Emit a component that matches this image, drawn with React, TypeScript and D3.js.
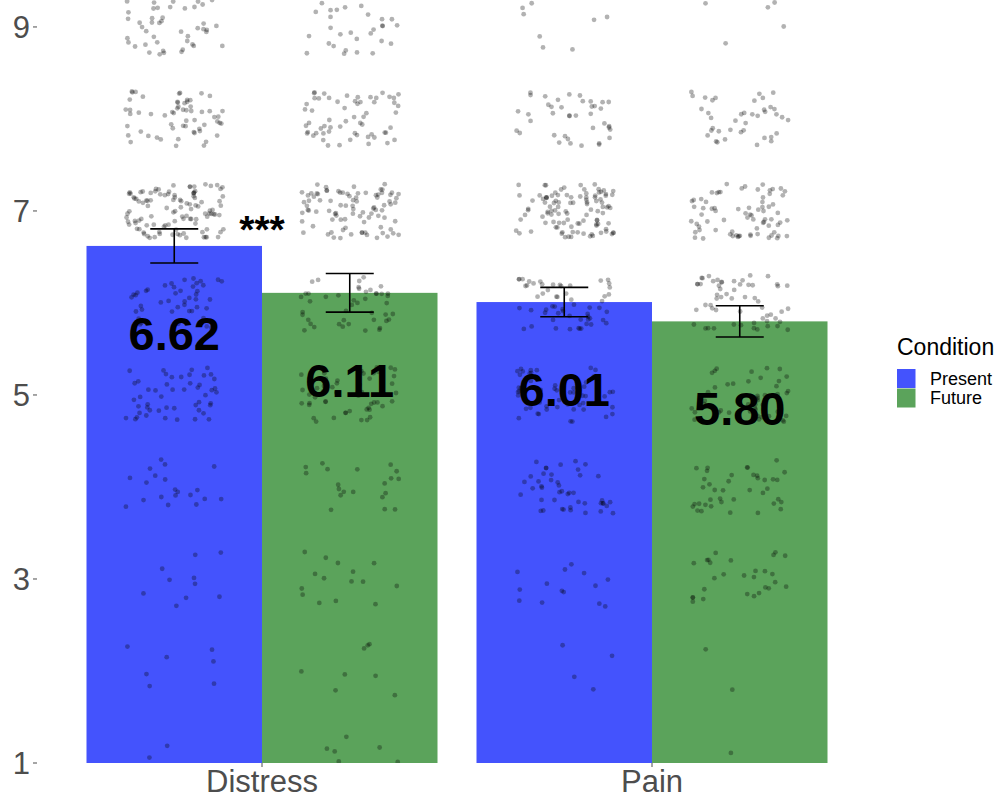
import React from "react";
import * as d3 from "d3";

// Groups and conditions
const groups = ["Distress", "Pain"];
const conditions = ["Present", "Future"];
const conditionColors = ["#4453fd", "#5ba35b"];

// Mean ratings and standard errors, [Present, Future] per group
const distressMeans = [6.62, 6.11];
const painMeans = [6.01, 5.8];
const distressErrors = [0.185, 0.21];
const painErrors = [0.16, 0.17];

// Number of responses at each rating level 1..9
const ratingLevels = [1, 2, 3, 4, 5, 6, 7, 8, 9];
const distressPresentCounts = [2, 7, 10, 20, 50, 45, 110, 60, 45];
const distressFutureCounts = [14, 8, 15, 20, 50, 45, 90, 60, 30];
const painPresentCounts = [2, 4, 14, 45, 55, 58, 105, 40, 8];
const painFutureCounts = [2, 2, 28, 40, 50, 58, 75, 40, 5];

const yTicks = [1, 3, 5, 7, 9];
const significance = ["***", ""];

const W = 1003;
const H = 799;
const panel = { left: 28, right: 886, top: 0, bottom: 763 };

export default function App() {
  const x = d3
    .scaleBand()
    .domain(groups)
    .range([panel.left, panel.right])
    .paddingInner(0.1)
    .paddingOuter(0.15);
  const xInner = d3.scaleBand().domain(conditions).range([0, x.bandwidth()]);
  const y = d3.scaleLinear().domain([1, 9.293]).range([panel.bottom, panel.top]);

  const means = [distressMeans, painMeans];
  const errors = [distressErrors, painErrors];
  const counts = [
    [distressPresentCounts, distressFutureCounts],
    [painPresentCounts, painFutureCounts],
  ];

  const bars = [];
  groups.forEach((g, gi) => {
    conditions.forEach((c, ci) => {
      bars.push({ g, gi, c, ci, mean: means[gi][ci], se: errors[gi][ci] });
    });
  });

  // jittered points (like geom_jitter), seeded so the picture is stable
  const rand = d3.randomLcg(0.4217);
  const points = [];
  bars.forEach((b) => {
    const cx = x(b.g) + xInner(b.c) + xInner.bandwidth() / 2;
    counts[b.gi][b.ci].forEach((n, li) => {
      for (let k = 0; k < n; k++) {
        const px = cx + (rand() * 2 - 1) * 0.28 * xInner.bandwidth();
        const v = ratingLevels[li] + (rand() * 2 - 1) * 0.3;
        if (v < 1 || v > 9.293) continue;
        points.push({ px, py: y(v) });
      }
    });
  });

  const grey = "#4d4d4d";
  const font = "'Liberation Sans', Arial, sans-serif";

  return (
    <svg
      width={W}
      height={H}
      style={{ position: "absolute", left: 0, top: 0, background: "#fff" }}
      fontFamily={font}
    >
      <defs>
        <clipPath id="panel">
          <rect x={panel.left} y={panel.top} width={panel.right - panel.left} height={panel.bottom - panel.top} />
        </clipPath>
      </defs>

      {/* bars */}
      <g clipPath="url(#panel)">
        {bars.map((b) => (
          <rect
            key={b.g + b.c}
            x={x(b.g) + xInner(b.c)}
            y={y(b.mean)}
            width={xInner.bandwidth()}
            height={y(1) - y(b.mean)}
            fill={conditionColors[b.ci]}
          />
        ))}
        {/* points */}
        {points.map((p, i) => (
          <circle key={i} cx={p.px} cy={p.py} r={2.4} fill="#000" fillOpacity={0.3} />
        ))}
      </g>

      {/* error bars */}
      {bars.map((b) => {
        const cx = x(b.g) + xInner(b.c) + xInner.bandwidth() / 2;
        const hw = 24;
        return (
          <g key={"e" + b.g + b.c} stroke="#000" strokeWidth={1.6}>
            <line x1={cx} x2={cx} y1={y(b.mean + b.se)} y2={y(b.mean - b.se)} />
            <line x1={cx - hw} x2={cx + hw} y1={y(b.mean + b.se)} y2={y(b.mean + b.se)} />
            <line x1={cx - hw} x2={cx + hw} y1={y(b.mean - b.se)} y2={y(b.mean - b.se)} />
          </g>
        );
      })}

      {/* mean labels */}
      {bars.map((b) => (
        <text
          key={"t" + b.g + b.c}
          x={x(b.g) + xInner(b.c) + xInner.bandwidth() / 2}
          y={y(b.mean - 0.95)}
          dy="0.35em"
          textAnchor="middle"
          fontSize={47}
          fontWeight="bold"
          fill="#000"
        >
          {b.mean.toFixed(2)}
        </text>
      ))}

      {/* significance stars */}
      {groups.map((g, gi) => (
        <text
          key={"s" + g}
          x={x(g) + x.bandwidth() / 2}
          y={y(6.65)}
          textAnchor="middle"
          fontSize={39}
          fontWeight="bold"
          fill="#000"
        >
          {significance[gi]}
        </text>
      ))}

      {/* y axis */}
      {yTicks.map((t) => (
        <g key={"y" + t}>
          <line x1={33} x2={37} y1={y(t)} y2={y(t)} stroke={grey} strokeWidth={1} />
          <text x={30} y={y(t)} dy="0.35em" textAnchor="end" fontSize={31} fill={grey}>
            {t}
          </text>
        </g>
      ))}

      {/* x axis */}
      {groups.map((g) => (
        <g key={"x" + g}>
          <line
            x1={x(g) + x.bandwidth() / 2}
            x2={x(g) + x.bandwidth() / 2}
            y1={panel.bottom}
            y2={panel.bottom + 4}
            stroke={grey}
          />
          <text x={x(g) + x.bandwidth() / 2} y={792} textAnchor="middle" fontSize={31} fill={grey}>
            {g}
          </text>
        </g>
      ))}

      {/* legend */}
      <text x={897} y={355} fontSize={23} fill="#000">
        Condition
      </text>
      {conditions.map((c, i) => (
        <g key={"l" + c}>
          <rect x={897} y={369 + i * 19.5} width={18.5} height={19} fill={conditionColors[i]} />
          <text x={930} y={378.5 + i * 19.5} dy="0.35em" fontSize={18} fill="#000">
            {c}
          </text>
        </g>
      ))}
    </svg>
  );
}
